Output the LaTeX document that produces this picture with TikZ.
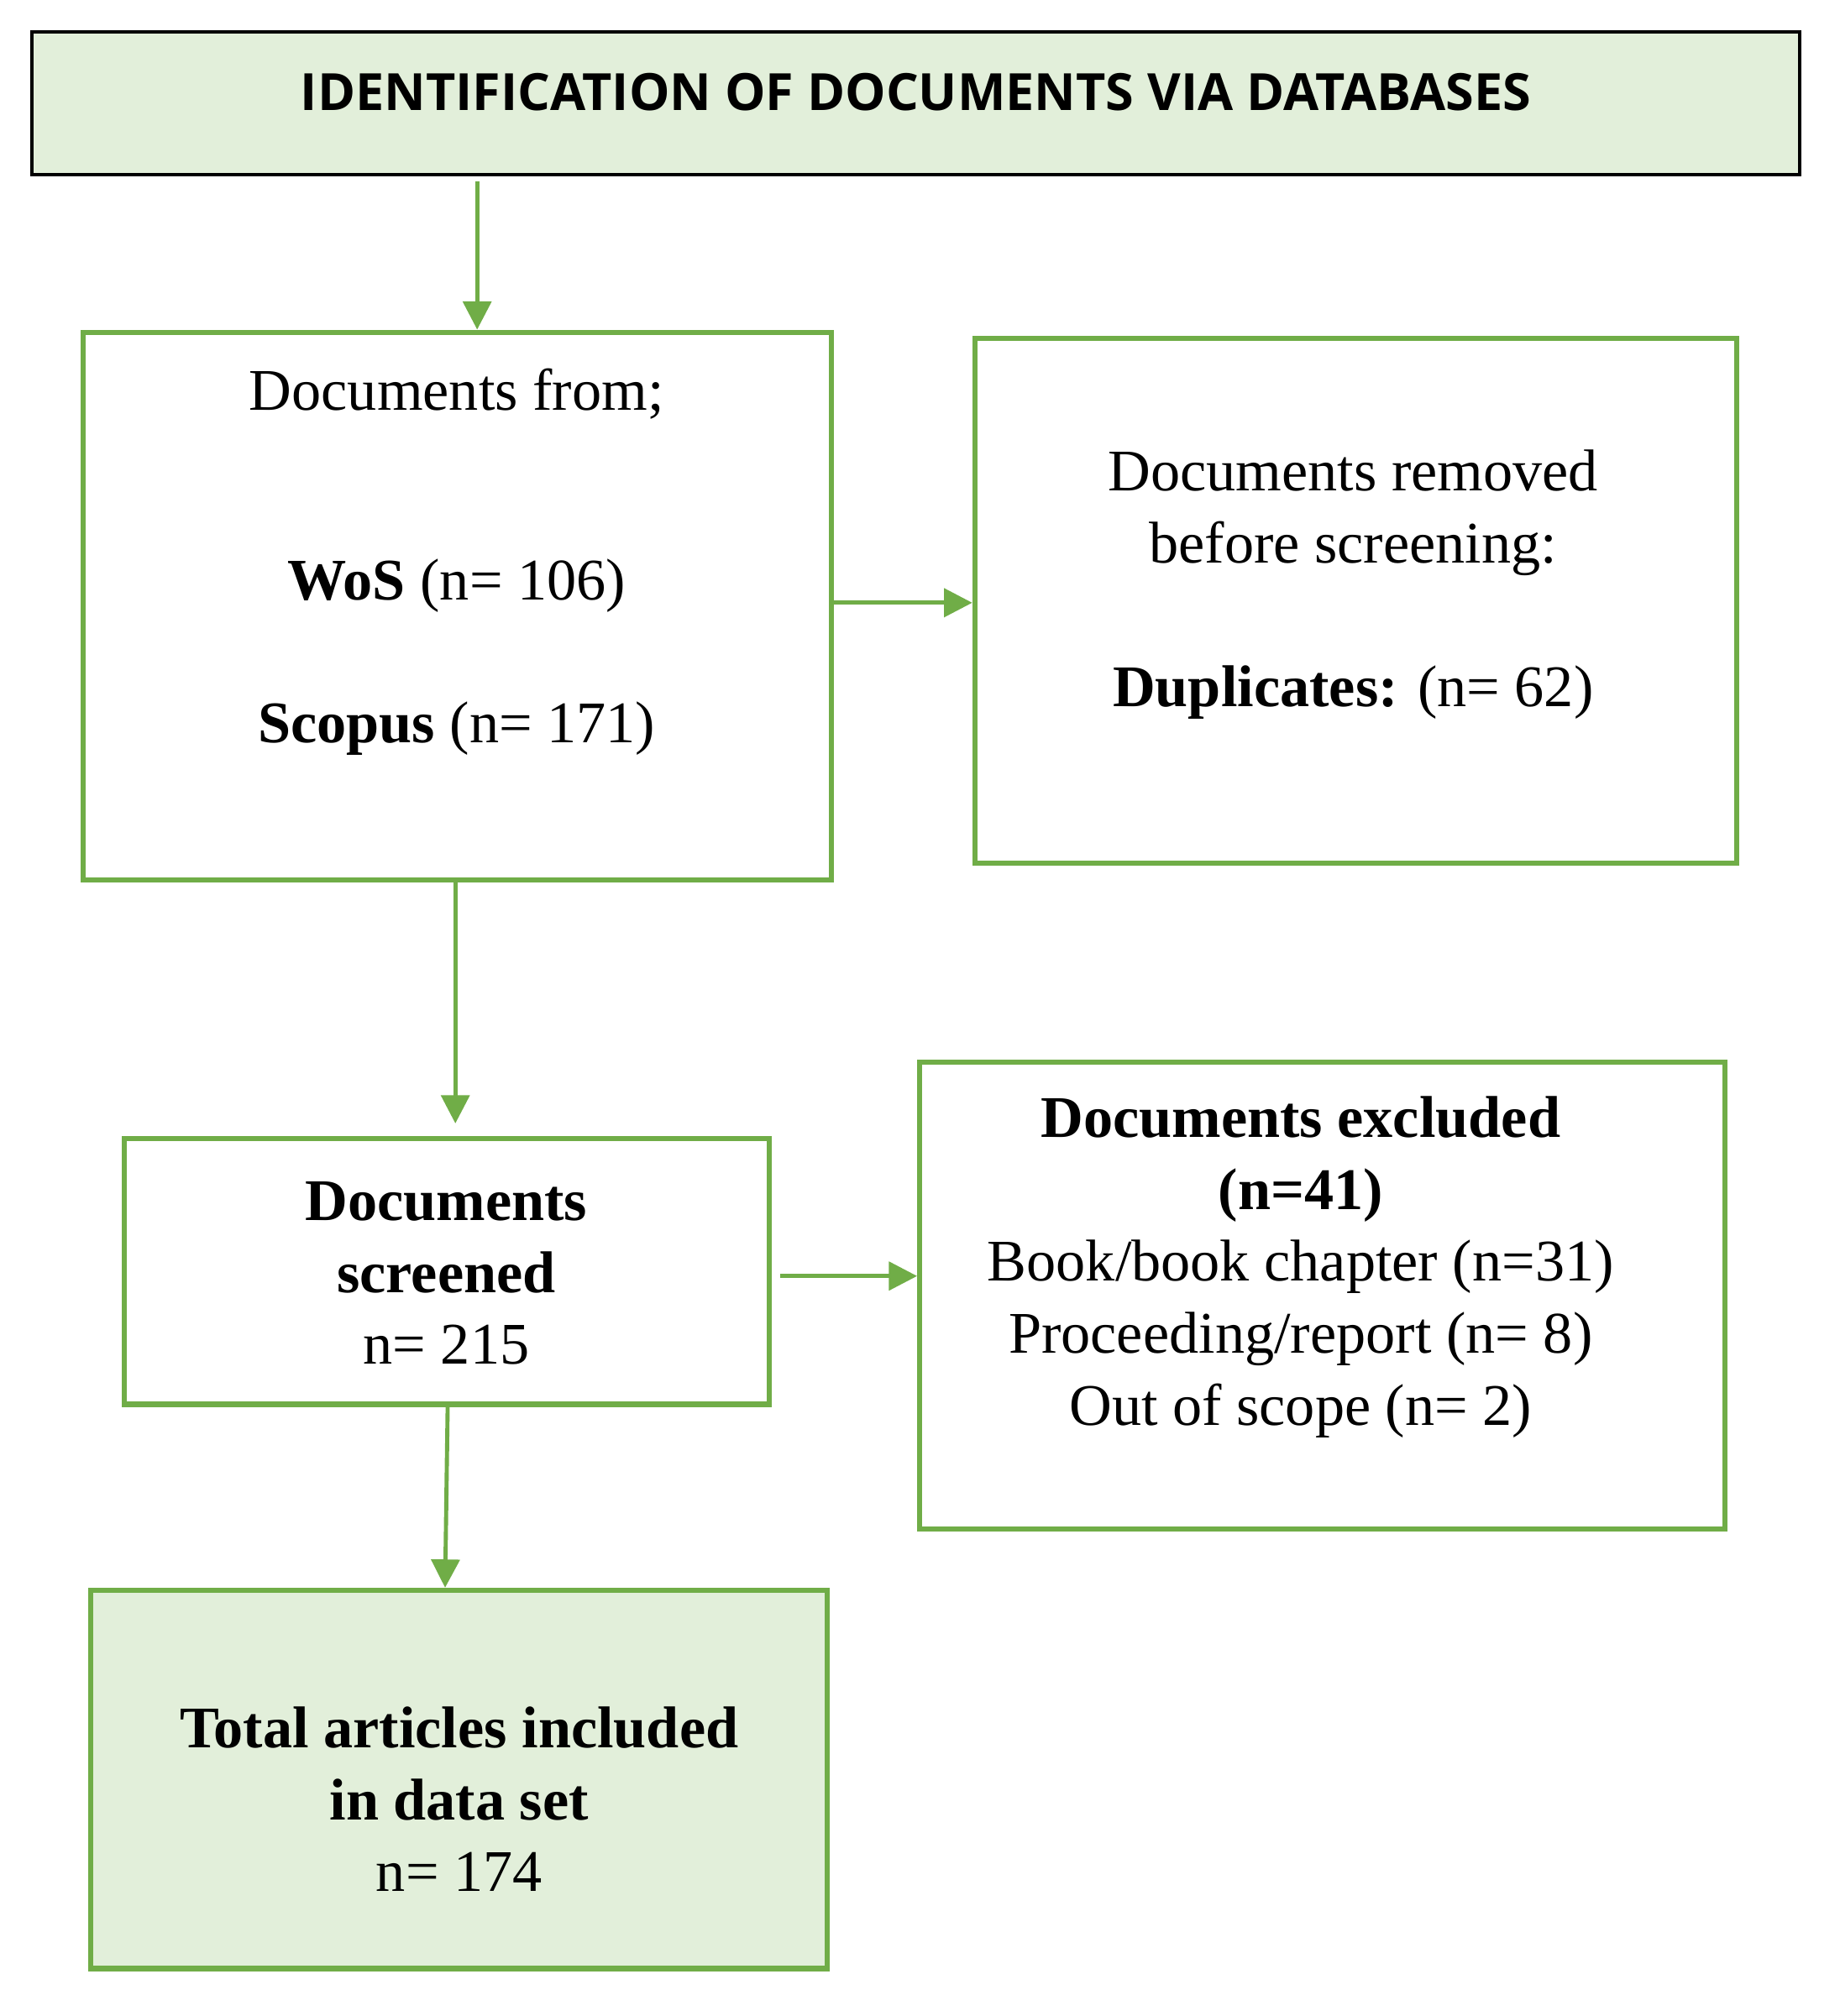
\documentclass[tikz,border=0pt]{standalone}
\usepackage{fontspec}
\setmainfont{Liberation Serif}
\newfontfamily\hdrfont{Open Sans}
\usetikzlibrary{arrows.meta}
\definecolor{gr}{HTML}{70AD47}
\definecolor{lg}{HTML}{E2EFDA}
\begin{document}
\begin{tikzpicture}[x=0.5pt,y=-0.5pt,
  box/.style={draw=gr,line width=2pt,rectangle,inner sep=0pt},
  txt/.style={font=\fontsize{23}{28}\selectfont,align=center,inner sep=0pt},
  arr/.style={draw=gr,line width=1.6pt,-{Triangle[length=11pt,width=11pt]}}]
\useasboundingbox (0,0) rectangle (1434,1572);
\node[draw=black,line width=1.2pt,fill=lg,minimum width=689pt,minimum height=55.5pt,inner sep=0pt] (hdr) at (714,80.5) {};
\node[inner sep=0pt,font=\hdrfont\bfseries\fontsize{20}{24}\selectfont] (hdrt) at (714,72) {IDENTIFICATION OF DOCUMENTS VIA DATABASES};
\node[box,minimum width=291.5pt,minimum height=213.5pt] (A) at (356.5,472.5) {};
\node[txt] (A1) at (356,307) {Documents from;};
\node[txt] (A2) at (356,457) {\textbf{WoS} (n= 106)};
\node[txt] (A3) at (356,568) {\textbf{Scopus} (n= 171)};
\node[box,minimum width=297pt,minimum height=204.5pt] (B) at (1057,468.5) {};
\node[txt] (B1) at (1055,400) {Documents removed\\before screening:};
\node[txt] (B2) at (1055,540) {\textbf{Duplicates:} (n= 62)};
\node[box,minimum width=251.5pt,minimum height=103.5pt] (C) at (348.5,991.5) {};
\node[txt] (C1) at (348,993) {\textbf{Documents}\\\textbf{screened}\\n= 215};
\node[box,minimum width=314pt,minimum height=182pt] (D) at (1031,1010) {};
\node[txt] (D1) at (1014,988) {\textbf{Documents excluded}\\\textbf{(n=41)}\\Book/book chapter (n=31)\\Proceeding/report (n= 8)\\Out of scope (n= 2)};
\node[box,fill=lg,minimum width=287pt,minimum height=147.5pt] (E) at (358,1387.5) {};
\node[txt] (E1) at (358,1403) {\textbf{Total articles included}\\\textbf{in data set}\\n= 174};
\coordinate (xa) at (372,0);
\coordinate (xc) at (355,0);
\draw[arr] (hdr.south -| xa) ++(0,4) -- (A.north -| xa);
\draw[arr] (A.east |- 0,470) -- (B.west |- 0,470);
\draw[arr] (A.south -| xc) -- ([yshift=5pt]C.north -| xc);
\draw[arr] ([xshift=3pt]C.east |- 0,995) -- (D.west |- 0,995);
\draw[arr] (C.south -| 349,0) -- (E.north -| 347,0);
\end{tikzpicture}
\end{document}
